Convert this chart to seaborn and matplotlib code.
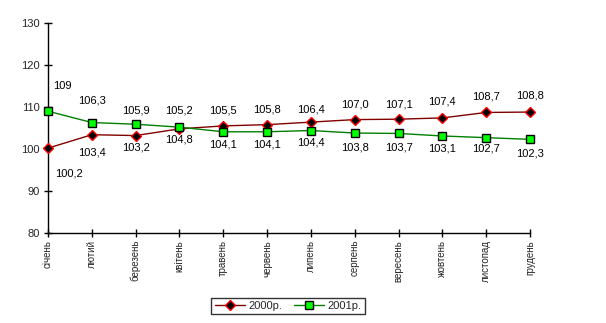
import matplotlib
matplotlib.use("Agg")
import matplotlib.pyplot as plt
import seaborn as sns
import pandas as pd
from matplotlib.lines import Line2D

months = ["січень", "лютий", "березень", "квітень", "травень", "червень",
          "липень", "серпень", "вересень", "жовтень", "листопад", "грудень"]
v2000 = [100.2, 103.4, 103.2, 104.8, 105.5, 105.8, 106.4, 107.0, 107.1, 107.4, 108.7, 108.8]
v2001 = [109.0, 106.3, 105.9, 105.2, 104.1, 104.1, 104.4, 103.8, 103.7, 103.1, 102.7, 102.3]
labels2000 = ["100,2", "103,4", "103,2", "104,8", "105,5", "105,8", "106,4", "107,0", "107,1", "107,4", "108,7", "108,8"]
labels2001 = ["109", "106,3", "105,9", "105,2", "104,1", "104,1", "104,4", "103,8", "103,7", "103,1", "102,7", "102,3"]
series_names = ["2000р.", "2001р."]

# label offsets in pixels (dx, dy), dy positive = up
off2000 = [(21, -25), (0, -18), (0, -12), (0, -11), (0, 15), (0, 15), (0, 13), (0, 15), (0, 15), (0, 16), (0, 16), (0, 17)]
off2001 = [(14, 25), (0, 22), (0, 14), (0, 17), (0, -13), (0, -13), (0, -12), (0, -14), (0, -14), (0, -13), (0, -11), (0, -14)]

sns.set_theme(style="white")
plt.rcParams["font.family"] = ["Liberation Sans", "DejaVu Sans"]

fig = plt.figure(figsize=(6.06, 3.23), dpi=100)
ax = fig.add_axes([48 / 606, 1 - 233 / 323, (530 - 48) / 606, 210 / 323])

x = list(range(len(months)))
df = pd.DataFrame({"x": x, "a": v2000, "b": v2001})

c2000 = "#800000"
c2001 = "#008000"
sns.lineplot(data=df, x="x", y="a", ax=ax, color=c2000, lw=1.0, marker="D",
             markersize=5, markerfacecolor="black", markeredgecolor="red",
             markeredgewidth=1, clip_on=False, zorder=3)
sns.lineplot(data=df, x="x", y="b", ax=ax, color=c2001, lw=1.0, marker="s",
             markersize=6.3, markerfacecolor="#00ff00", markeredgecolor="black",
             markeredgewidth=1, clip_on=False, zorder=3)

for xi, v, lab, (dx, dy) in zip(x, v2000, labels2000, off2000):
    ax.annotate(lab, (xi, v), xytext=(dx, dy), textcoords="offset pixels",
                ha="center", va="center", fontsize=8, color="black")
for xi, v, lab, (dx, dy) in zip(x, v2001, labels2001, off2001):
    ax.annotate(lab, (xi, v), xytext=(dx, dy), textcoords="offset pixels",
                ha="center", va="center", fontsize=8, color="black")

ax.set_xlim(0, 11)
ax.set_ylim(80, 130)
ax.set_yticks([80, 90, 100, 110, 120, 130])
ax.set_xticks(x)
ax.set_xticklabels(months, rotation=90, fontsize=7)
ax.tick_params(axis="y", labelsize=8, direction="inout", length=6, width=1,
               color="black", left=True, pad=3)
ax.tick_params(axis="x", direction="inout", length=6, width=1, color="black",
               bottom=True, pad=2)
ax.set_xlabel("")
ax.set_ylabel("")
for s in ["top", "right"]:
    ax.spines[s].set_visible(False)
for s in ["left", "bottom"]:
    ax.spines[s].set_color("black")
    ax.spines[s].set_linewidth(1)

handles = [
    Line2D([], [], color=c2000, lw=1.0, marker="D", markersize=5,
           markerfacecolor="black", markeredgecolor="red", markeredgewidth=1),
    Line2D([], [], color=c2001, lw=1.0, marker="s", markersize=6.3,
           markerfacecolor="#00ff00", markeredgecolor="black", markeredgewidth=1),
]
leg = fig.legend(handles, series_names, loc="center", ncol=2,
                 bbox_to_anchor=(288 / 606, 1 - 306 / 323), fontsize=8,
                 frameon=True, fancybox=False, edgecolor="black",
                 handlelength=2.7, handletextpad=0.3, columnspacing=1.1,
                 borderpad=0.3, borderaxespad=0)
leg.get_frame().set_linewidth(1)

fig.savefig("out.png", dpi=100)
